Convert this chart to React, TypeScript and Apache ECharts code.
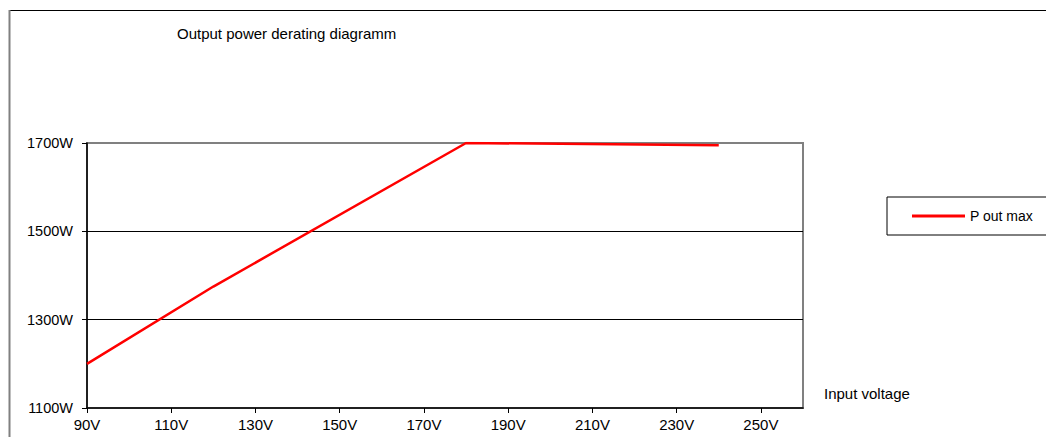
import React, { useEffect, useRef } from "react";
import * as echarts from "echarts";

const voltages = [90, 120, 180, 240];
const powerOut = [1200, 1375, 1700, 1695];
const xTicks = [90, 110, 130, 150, 170, 190, 210, 230, 250];
const yTicks = [1100, 1300, 1500, 1700];
const seriesName = "P out max";
const titleText = "Output power derating diagramm";
const xName = "Input voltage";

const FONT = "'Liberation Sans', Arial, sans-serif";

export default function App() {
  const ref = useRef<HTMLDivElement>(null);
  useEffect(() => {
    if (!ref.current) return;
    const chart = echarts.init(ref.current, undefined, { renderer: "svg" });
    chart.setOption({
      animation: false,
      backgroundColor: "#ffffff",
      textStyle: { fontFamily: FONT, color: "#000" },
      title: {
        text: titleText,
        left: 172,
        top: 21,
        textStyle: { fontSize: 15, fontWeight: "normal", color: "#000", fontFamily: FONT },
      },
      legend: {
        data: [{ name: seriesName, icon: "rect" }],
        left: 887,
        top: 197,
        orient: "vertical",
        itemWidth: 53,
        itemHeight: 3,
        padding: [12, 40, 12, 25],
        borderColor: "#000",
        borderWidth: 1,
        backgroundColor: "#fff",
        itemStyle: { color: "#ff0000", borderWidth: 0 },
        textStyle: { fontSize: 14, color: "#000", fontFamily: FONT, lineHeight: 14 },
      },
      grid: {
        left: 87,
        top: 143,
        width: 716,
        height: 265,
        show: true,
        borderColor: "#808080",
        borderWidth: 2,
        backgroundColor: "#fff",
      },
      xAxis: {
        type: "value",
        min: 90,
        max: 260,
        axisLine: { show: true, onZero: false, lineStyle: { color: "#000", width: 1.5 } },
        axisTick: {
          show: true,
          inside: false,
          length: 5,
          customValues: xTicks,
          lineStyle: { color: "#000" },
        },
        axisLabel: {
          customValues: xTicks,
          formatter: (v: number) => `${v}V`,
          margin: 9,
          fontSize: 15,
          color: "#000",
          fontFamily: FONT,
        },
        splitLine: { show: false },
      },
      yAxis: {
        type: "value",
        min: 1100,
        max: 1700,
        interval: 200,
        axisLine: { show: true, onZero: false, lineStyle: { color: "#000", width: 1.5 } },
        axisTick: {
          show: true,
          inside: false,
          length: 5,
          customValues: yTicks,
          lineStyle: { color: "#000" },
        },
        axisLabel: {
          customValues: yTicks,
          formatter: (v: number) => `${v}W`,
          margin: 14,
          fontSize: 14.5,
          color: "#000",
          fontFamily: FONT,
        },
        splitLine: {
          show: true,
          showMinLine: false,
          showMaxLine: false,
          lineStyle: { color: "#000", width: 1 },
        },
      },
      graphic: [
        {
          type: "line",
          shape: { x1: 9, y1: 10.5, x2: 1046, y2: 10.5 },
          style: { stroke: "#000", lineWidth: 1 },
          silent: true,
        },
        {
          type: "line",
          shape: { x1: 9.5, y1: 10, x2: 9.5, y2: 437 },
          style: { stroke: "#808080", lineWidth: 2 },
          silent: true,
        },
        {
          type: "text",
          left: 824,
          top: 386,
          style: { text: xName, fontSize: 15, fill: "#000", fontFamily: FONT },
        },
      ],
      series: [
        {
          name: seriesName,
          type: "line",
          data: voltages.map((v, i) => [v, powerOut[i]]),
          symbol: "none",
          lineStyle: { color: "#ff0000", width: 2.5 },
          itemStyle: { color: "#ff0000" },
        },
      ],
    });
    return () => chart.dispose();
  }, []);
  return (
    <div
      ref={ref}
      style={{ position: "absolute", left: 0, top: 0, width: 1046, height: 437 }}
    />
  );
}
